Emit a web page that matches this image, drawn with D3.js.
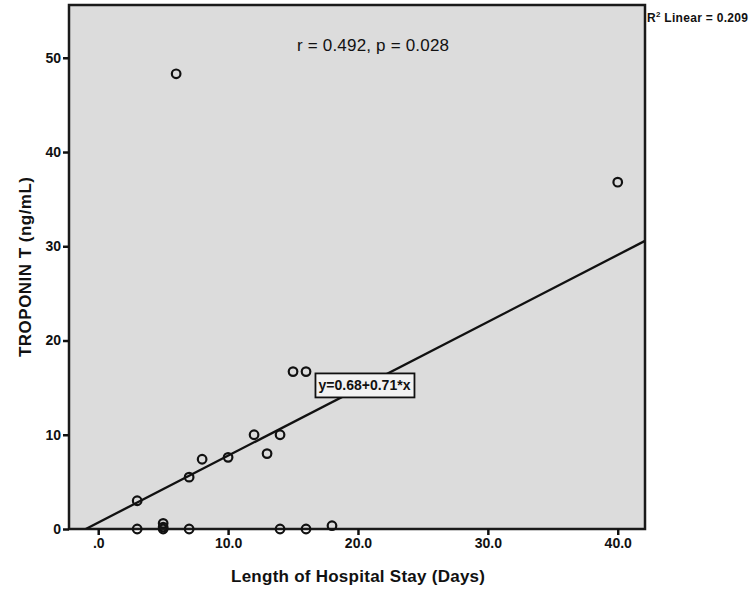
<!DOCTYPE html>
<html>
<head>
<meta charset="utf-8">
<script src="https://cdn.jsdelivr.net/npm/d3@7"></script>
<style>
  body { margin: 0; background: #fff; }
  svg text { font-family: "Liberation Sans", Arial, sans-serif; fill: #111; }
</style>
</head>
<body>
<svg id="chart" width="750" height="601"></svg>
<script>
// Data
const stayDays = [3, 3, 5, 5, 5, 6, 7, 7, 8, 10, 12, 13, 14, 14, 15, 16, 16, 18, 40];
const troponin = [0, 3.0, 0.6, 0.2, 0, 48.3, 5.5, 0, 7.4, 7.6, 10, 8, 10, 0, 16.7, 16.7, 0, 0.35, 36.8];
const xTicks = [0, 10, 20, 30, 40];
const xTickLabels = ['.0', '10.0', '20.0', '30.0', '40.0'];
const yTicks = [0, 10, 20, 30, 40, 50];
const fitIntercept = 0.68;
const fitSlope = 0.71;

const translate = (x, y) => `translate(${x}, ${y})`;

const width = 750, height = 601;
const margins = { top: 5, right: 105, bottom: 72, left: 69 };

const svg = d3.select('#chart');

const x = d3.scaleLinear()
    .domain([-2.25, 42.1])
    .range([margins.left, width - margins.right]);
const y = d3.scaleLinear()
    .domain([0, 55.6])
    .range([height - margins.bottom, margins.top]);

// Plot background + frame
svg.append('rect')
    .attr('x', margins.left)
    .attr('y', margins.top)
    .attr('width', width - margins.left - margins.right)
    .attr('height', height - margins.top - margins.bottom)
    .attr('fill', '#dcdcdc')
    .attr('stroke', '#1a1a1a')
    .attr('stroke-width', 2.5);

// clip for the fit line
svg.append('clipPath').attr('id', 'plotClip')
    .append('rect')
    .attr('x', margins.left)
    .attr('y', margins.top)
    .attr('width', width - margins.left - margins.right)
    .attr('height', height - margins.top - margins.bottom);

// X axis
const xAxis = d3.axisBottom(x)
    .tickValues(xTicks)
    .tickFormat((d, i) => xTickLabels[i])
    .tickSizeOuter(0)
    .tickSize(6)
    .tickPadding(3);
const xg = svg.append('g')
    .attr('transform', translate(0, height - margins.bottom))
    .call(xAxis);
xg.select('.domain').remove();
xg.selectAll('line').attr('stroke', '#111').attr('stroke-width', 2.5);
xg.selectAll('text')
    .attr('font-size', 14)
    .attr('font-weight', 'bold')
    .attr('font-family', '"Liberation Sans", Arial, sans-serif');

// Y axis
const yAxis = d3.axisLeft(y)
    .tickValues(yTicks)
    .tickFormat(d3.format('d'))
    .tickSizeOuter(0)
    .tickSize(6)
    .tickPadding(2);
const yg = svg.append('g')
    .attr('transform', translate(margins.left, 0))
    .call(yAxis);
yg.select('.domain').remove();
yg.selectAll('line').attr('stroke', '#111').attr('stroke-width', 2.5);
yg.selectAll('text')
    .attr('font-size', 14)
    .attr('font-weight', 'bold')
    .attr('font-family', '"Liberation Sans", Arial, sans-serif');

// Axis titles
svg.append('text')
    .attr('x', 358)
    .attr('y', 582)
    .attr('text-anchor', 'middle')
    .attr('font-size', 17)
    .attr('font-weight', 'bold')
    .attr('textLength', 254)
    .text('Length of Hospital Stay (Days)');

svg.append('text')
    .attr('transform', translate(31, 267) + ' rotate(-90)')
    .attr('text-anchor', 'middle')
    .attr('font-size', 17)
    .attr('font-weight', 'bold')
    .attr('textLength', 180)
    .text('TROPONIN T (ng/mL)');

// Fit line y = a + b*x, from the x-intercept to the right edge
const fitX0 = -fitIntercept / fitSlope;
const fitX1 = x.domain()[1];
const fit = d => fitIntercept + fitSlope * d;
svg.append('line')
    .attr('clip-path', 'url(#plotClip)')
    .attr('x1', x(fitX0))
    .attr('y1', y(fit(fitX0)))
    .attr('x2', x(fitX1))
    .attr('y2', y(fit(fitX1)))
    .attr('stroke', '#111')
    .attr('stroke-width', 2.3);

// Points
svg.append('g')
    .selectAll('circle')
    .data(stayDays.map((d, i) => ({ x: d, y: troponin[i] })))
    .join('circle')
    .attr('cx', d => x(d.x))
    .attr('cy', d => y(d.y))
    .attr('r', 4.3)
    .attr('fill', 'none')
    .attr('stroke', '#111')
    .attr('stroke-width', 2.2);

// Equation label on the fit line
const labelX = 20.5;
const eqG = svg.append('g')
    .attr('transform', translate(x(labelX), y(fit(labelX))));
eqG.append('rect')
    .attr('x', -49)
    .attr('y', -12)
    .attr('width', 99)
    .attr('height', 24)
    .attr('fill', '#f2f2f2')
    .attr('stroke', '#111')
    .attr('stroke-width', 1.8);
eqG.append('text')
    .attr('text-anchor', 'middle')
    .attr('dy', '0.35em')
    .attr('font-size', 14)
    .attr('font-weight', 'bold')
    .attr('textLength', 92)
    .text('y=0.68+0.71*x');

// Correlation annotation
svg.append('text')
    .attr('x', 373)
    .attr('y', 51)
    .attr('text-anchor', 'middle')
    .attr('font-size', 17)
    .attr('textLength', 152)
    .text('r = 0.492, p = 0.028');

// R squared
const r2 = svg.append('text')
    .attr('x', 647)
    .attr('y', 22)
    .attr('font-size', 12)
    .attr('font-weight', 'bold')
    .attr('textLength', 101);
r2.append('tspan').text('R');
r2.append('tspan').attr('font-size', 8).attr('dy', -5).text('2');
r2.append('tspan').attr('dy', 5).text(' Linear = 0.209');
</script>
</body>
</html>
